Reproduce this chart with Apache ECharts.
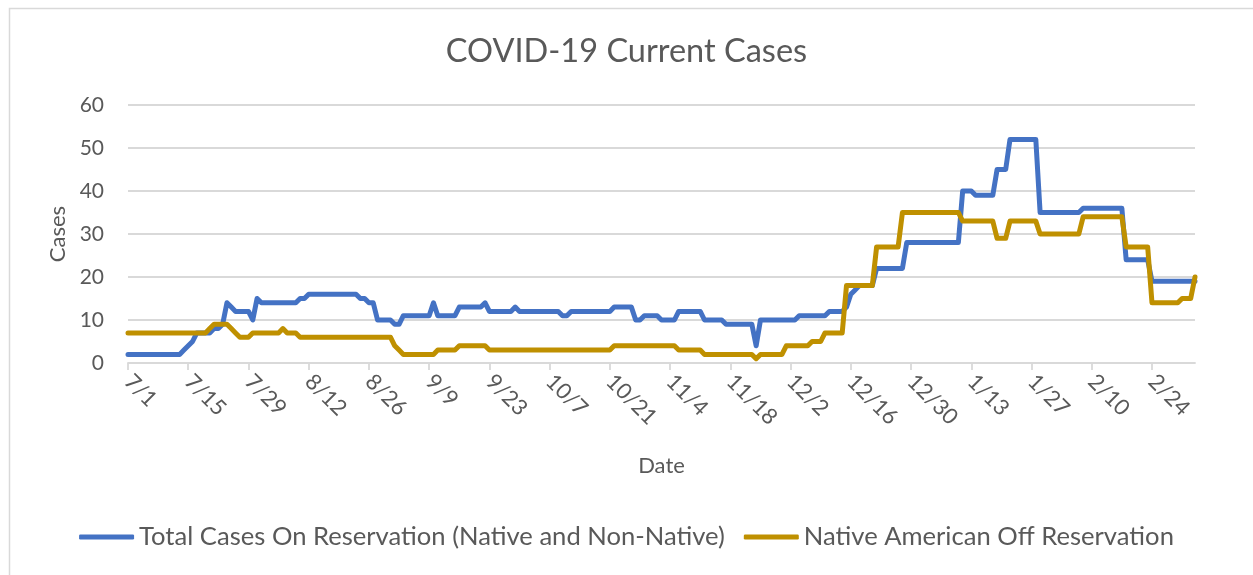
<!DOCTYPE html>
<html>
<head>
<meta charset="utf-8">
<script src="https://cdn.jsdelivr.net/npm/echarts@6/dist/echarts.min.js"></script>
<style>
html,body{margin:0;padding:0;background:#fff;}
#chart{width:1253px;height:575px;}
</style>
</head>
<body>
<div id="chart"></div>
<script>
var dates = [
"7/1","7/2","7/3","7/4","7/5","7/6","7/7","7/8","7/9","7/10","7/11","7/12","7/13","7/14","7/15","7/16","7/17","7/18","7/19","7/20","7/21","7/22","7/23","7/24","7/25","7/26","7/27","7/28","7/29","7/30","7/31",
"8/1","8/2","8/3","8/4","8/5","8/6","8/7","8/8","8/9","8/10","8/11","8/12","8/13","8/14","8/15","8/16","8/17","8/18","8/19","8/20","8/21","8/22","8/23","8/24","8/25","8/26","8/27","8/28","8/29","8/30","8/31",
"9/1","9/2","9/3","9/4","9/5","9/6","9/7","9/8","9/9","9/10","9/11","9/12","9/13","9/14","9/15","9/16","9/17","9/18","9/19","9/20","9/21","9/22","9/23","9/24","9/25","9/26","9/27","9/28","9/29","9/30",
"10/1","10/2","10/3","10/4","10/5","10/6","10/7","10/8","10/9","10/10","10/11","10/12","10/13","10/14","10/15","10/16","10/17","10/18","10/19","10/20","10/21","10/22","10/23","10/24","10/25","10/26","10/27","10/28","10/29","10/30","10/31",
"11/1","11/2","11/3","11/4","11/5","11/6","11/7","11/8","11/9","11/10","11/11","11/12","11/13","11/14","11/15","11/16","11/17","11/18","11/19","11/20","11/21","11/22","11/23","11/24","11/25","11/26","11/27","11/28","11/29","11/30",
"12/1","12/2","12/3","12/4","12/5","12/6","12/7","12/8","12/9","12/10","12/11","12/12","12/13","12/14","12/15","12/16","12/17","12/18","12/19","12/20","12/21","12/22","12/23","12/24","12/25","12/26","12/27","12/28","12/29","12/30","12/31",
"1/1","1/2","1/3","1/4","1/5","1/6","1/7","1/8","1/9","1/10","1/11","1/12","1/13","1/14","1/15","1/16","1/17","1/18","1/19","1/20","1/21","1/22","1/23","1/24","1/25","1/26","1/27","1/28","1/29","1/30","1/31",
"2/1","2/2","2/3","2/4","2/5","2/6","2/7","2/8","2/9","2/10","2/11","2/12","2/13","2/14","2/15","2/16","2/17","2/18","2/19","2/20","2/21","2/22","2/23","2/24","2/25","2/26","2/27","2/28",
"3/1","3/2","3/3","3/4","3/5","3/6"
];

var totalOnReservation = [
2,2,2,2,2,2,2,2,2,2,
2,2,2,3,4,5,7,7,7,7,
8,8,9,14,13,12,12,12,12,10,
15,14,14,14,14,14,14,14,14,14,
15,15,16,16,16,16,16,16,16,16,
16,16,16,16,15,15,14,14,10,10,
10,10,9,9,11,11,11,11,11,11,
11,14,11,11,11,11,11,13,13,13,
13,13,13,14,12,12,12,12,12,12,
13,12,12,12,12,12,12,12,12,12,
12,11,11,12,12,12,12,12,12,12,
12,12,12,13,13,13,13,13,10,10,
11,11,11,11,10,10,10,10,12,12,
12,12,12,12,10,10,10,10,10,9,
9,9,9,9,9,9,4,10,10,10,
10,10,10,10,10,10,11,11,11,11,
11,11,11,12,12,12,12,13,16,17,
18,18,18,18,22,22,22,22,22,22,
22,28,28,28,28,28,28,28,28,28,
28,28,28,28,40,40,40,39,39,39,
39,39,45,45,45,52,52,52,52,52,
52,52,35,35,35,35,35,35,35,35,
35,35,36,36,36,36,36,36,36,36,
36,36,24,24,24,24,24,24,19,19,
19,19,19,19,19,19,19,19,19
];

var nativeOffReservation = [
7,7,7,7,7,7,7,7,7,7,
7,7,7,7,7,7,7,7,7,8,
9,9,9,9,8,7,6,6,6,7,
7,7,7,7,7,7,8,7,7,7,
6,6,6,6,6,6,6,6,6,6,
6,6,6,6,6,6,6,6,6,6,
6,6,4,3,2,2,2,2,2,2,
2,2,3,3,3,3,3,4,4,4,
4,4,4,4,3,3,3,3,3,3,
3,3,3,3,3,3,3,3,3,3,
3,3,3,3,3,3,3,3,3,3,
3,3,3,4,4,4,4,4,4,4,
4,4,4,4,4,4,4,4,3,3,
3,3,3,3,2,2,2,2,2,2,
2,2,2,2,2,2,1,2,2,2,
2,2,2,4,4,4,4,4,4,5,
5,5,7,7,7,7,7,18,18,18,
18,18,18,18,27,27,27,27,27,27,
35,35,35,35,35,35,35,35,35,35,
35,35,35,35,33,33,33,33,33,33,
33,33,29,29,29,33,33,33,33,33,
33,33,30,30,30,30,30,30,30,30,
30,30,34,34,34,34,34,34,34,34,
34,34,27,27,27,27,27,27,14,14,
14,14,14,14,14,15,15,15,20
];

var seriesNames = ["Total Cases On Reservation (Native and Non-Native)", "Native American Off Reservation"];
var titleText = "COVID-19 Current Cases";
var yTicks = [0, 10, 20, 30, 40, 50, 60];

var FONT = "Lato";
var TXT = "#595959";
var GRID = "#D9D9D9";

var chart = echarts.init(document.getElementById('chart'), null, {renderer: 'canvas'});
chart.setOption({
  animation: false,
  backgroundColor: '#ffffff',
  graphic: [{
    type: 'rect', left: 7, top: 6, silent: true,
    shape: {width: 1300, height: 620},
    style: {fill: 'none', stroke: GRID, lineWidth: 1.5}
  }],
  title: {
    text: titleText, left: 'center', top: 30,
    textStyle: {fontFamily: FONT, fontSize: 32.5, fontWeight: 'normal', color: TXT}
  },
  legend: {
    bottom: 20, left: 'center',
    itemWidth: 55, itemHeight: 5, itemGap: 19,
    icon: 'roundRect',
    textStyle: {fontFamily: FONT, fontSize: 25.6, color: TXT},
    data: seriesNames
  },
  grid: {left: 128, right: 58, top: 105, bottom: 212, containLabel: false},
  xAxis: {
    type: 'category', data: dates, boundaryGap: false,
    name: 'Date', nameLocation: 'middle', nameGap: 92,
    nameTextStyle: {fontFamily: FONT, fontSize: 22, color: TXT},
    axisLine: {lineStyle: {color: GRID, width: 1.8}},
    axisTick: {show: true, interval: 13, length: 7, lineStyle: {color: GRID, width: 1.8}},
    axisLabel: {interval: 13, rotate: -45, margin: 15, fontFamily: FONT, fontSize: 22, color: TXT},
    splitLine: {show: false}
  },
  yAxis: {
    type: 'value', min: yTicks[0], max: yTicks[yTicks.length - 1], interval: 10,
    name: 'Cases', nameLocation: 'middle', nameGap: 58, nameRotate: 90,
    nameTextStyle: {fontFamily: FONT, fontSize: 22, color: TXT},
    axisLine: {show: false}, axisTick: {show: false},
    axisLabel: {margin: 24, fontFamily: FONT, fontSize: 21, color: TXT},
    splitLine: {lineStyle: {color: GRID, width: 1.8}}
  },
  series: [
    {
      name: seriesNames[0], type: 'line', data: totalOnReservation,
      showSymbol: false, symbol: 'none',
      lineStyle: {color: '#4472C4', width: 5, cap: 'round', join: 'round'},
      itemStyle: {color: '#4472C4'}
    },
    {
      name: seriesNames[1], type: 'line', data: nativeOffReservation,
      showSymbol: false, symbol: 'none',
      lineStyle: {color: '#BF9000', width: 5, cap: 'round', join: 'round'},
      itemStyle: {color: '#BF9000'}
    }
  ]
});
</script>
</body>
</html>
